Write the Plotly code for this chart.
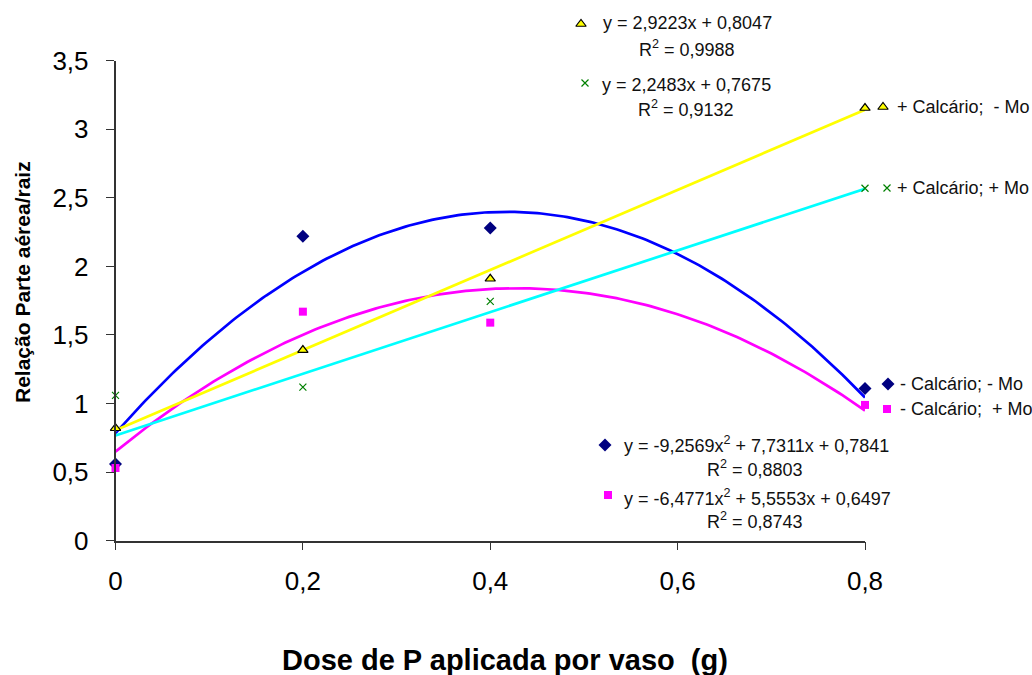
import numpy as np
import plotly.graph_objects as go

# Doses of P applied per pot (g)
doses = [0, 0.2, 0.4, 0.8]

# Shoot/root ratio per treatment
sem_calc_sem_mo = [0.56, 2.22, 2.28, 1.11]   # - Calcário; - Mo
sem_calc_com_mo = [0.53, 1.67, 1.59, 0.99]   # - Calcário; + Mo
com_calc_sem_mo = [0.82, 1.39, 1.91, 3.155]  # + Calcário; - Mo
com_calc_com_mo = [1.06, 1.12, 1.745, 2.57]  # + Calcário; + Mo

# Fitted trendline coefficients (highest power first)
fit_sem_calc_sem_mo = [-9.2569, 7.7311, 0.7841]
fit_sem_calc_com_mo = [-6.4771, 5.5553, 0.6497]
fit_com_calc_sem_mo = [2.9223, 0.8047]
fit_com_calc_com_mo = [2.2483, 0.7675]

x_ticks = [0, 0.2, 0.4, 0.6, 0.8]
x_tick_text = ["0", "0,2", "0,4", "0,6", "0,8"]
y_ticks = [0, 0.5, 1, 1.5, 2, 2.5, 3, 3.5]
y_tick_text = ["0", "0,5", "1", "1,5", "2", "2,5", "3", "3,5"]

W, H = 1032, 675
FONT = "Liberation Sans, Arial, sans-serif"
TXT = "#111111"

# plot area in pixels
PX_L, PX_R, PX_T, PX_B = 115.5, 865.0, 60.7, 540.7

NAVY = "#000080"
BLUE = "#0000FF"
MAGENTA = "#FF00FF"
YELLOW = "#FFFF00"
CYAN = "#00FFFF"
GREEN = "#008000"

series = [
    dict(y=sem_calc_sem_mo, fit=fit_sem_calc_sem_mo, line=BLUE,
         marker=dict(symbol="diamond", size=10, color=NAVY)),
    dict(y=sem_calc_com_mo, fit=fit_sem_calc_com_mo, line=MAGENTA,
         marker=dict(symbol="square", size=8, color=MAGENTA)),
    dict(y=com_calc_sem_mo, fit=fit_com_calc_sem_mo, line=YELLOW,
         marker=dict(symbol="triangle-up", size=9, color=YELLOW,
                     line=dict(color="#000000", width=1.2))),
    dict(y=com_calc_com_mo, fit=fit_com_calc_com_mo, line=CYAN,
         marker=dict(symbol="x-thin", size=7, color=GREEN,
                     line=dict(color=GREEN, width=1.2))),
]

fig = go.Figure()
xs = np.linspace(0, 0.8, 200)

# trendlines first, so the points sit on top
for s in series:
    fig.add_trace(go.Scatter(x=xs, y=np.polyval(s["fit"], xs), mode="lines",
                             line=dict(color=s["line"], width=2.7),
                             hoverinfo="skip", showlegend=False))

for s in series:
    fig.add_trace(go.Scatter(x=doses, y=s["y"], mode="markers",
                             marker=s["marker"], cliponaxis=False,
                             showlegend=False))

# key symbols beside the labels, on a full-page pixel-space axis pair
key_pos = [
    (888, 384, series[0]["marker"]),
    (887, 409, series[1]["marker"]),
    (883, 107, series[2]["marker"]),
    (887, 188, series[3]["marker"]),
    (605, 445, series[0]["marker"]),
    (608, 495, series[1]["marker"]),
    (581, 24, series[2]["marker"]),
    (585, 83, series[3]["marker"]),
]
for kx, ky, mk in key_pos:
    fig.add_trace(go.Scatter(x=[kx], y=[ky], mode="markers", marker=mk,
                             xaxis="x2", yaxis="y2", cliponaxis=False,
                             hoverinfo="skip", showlegend=False))

annotations = []


def label(text, px, py, size=18, anchor="left", **kw):
    annotations.append(dict(text=text, x=px / W, y=1 - py / H, xref="paper", yref="paper",
                            xanchor=anchor, yanchor="middle", showarrow=False,
                            font=dict(family=FONT, size=size, color=TXT), **kw))


# legend texts
label("+ Calcário;  - Mo", 895, 107)
label("+ Calcário; + Mo", 895, 188)
label("- Calcário; - Mo", 898, 384)
label("- Calcário;  + Mo", 898, 409)

# trendline equations
label("y = 2,9223x + 0,8047", 601, 23)
label("R<sup>2</sup> = 0,9988", 687, 48, anchor="center")
label("y = 2,2483x + 0,7675", 600, 85)
label("R<sup>2</sup> = 0,9132", 686, 108, anchor="center")
label("y = -9,2569x<sup>2</sup> + 7,7311x + 0,7841", 622, 445)
label("R<sup>2</sup> = 0,8803", 755, 468, anchor="center")
label("y = -6,4771x<sup>2</sup> + 5,5553x + 0,6497", 622, 497)
label("R<sup>2</sup> = 0,8743", 755, 520, anchor="center")

# axis titles
annotations.append(dict(text="<b>Dose de P aplicada por vaso  (g)</b>", x=505 / W, y=1 - 660 / H,
                        xref="paper", yref="paper", xanchor="center", yanchor="middle",
                        showarrow=False, font=dict(family=FONT, size=29, color="#000000")))
annotations.append(dict(text="<b>Relação Parte aérea/raiz</b>", x=22 / W, y=1 - 282 / H,
                        xref="paper", yref="paper", xanchor="center", yanchor="middle",
                        textangle=-90, showarrow=False,
                        font=dict(family=FONT, size=21, color="#000000")))

axis_common = dict(showgrid=False, zeroline=False, showline=True, linecolor="#333333",
                   linewidth=1.5, ticks="outside", ticklen=8, tickwidth=1.3,
                   tickcolor="#333333", tickfont=dict(family=FONT, size=26, color="#000000"))

fig.update_layout(
    width=W, height=H,
    margin=dict(l=0, r=0, t=0, b=0, autoexpand=False),
    paper_bgcolor="white", plot_bgcolor="rgba(0,0,0,0)",
    showlegend=False,
    xaxis=dict(domain=[PX_L / W, PX_R / W], range=[0, 0.8], tickmode="array",
               tickvals=x_ticks, ticktext=x_tick_text, ticklabelstandoff=8,
               anchor="y", automargin=False, **axis_common),
    yaxis=dict(domain=[1 - PX_B / H, 1 - PX_T / H], range=[0, 3.5], tickmode="array",
               tickvals=y_ticks, ticktext=y_tick_text, ticklabelstandoff=12,
               anchor="x", automargin=False, **axis_common),
    xaxis2=dict(domain=[0, 1], range=[0, W], visible=False, anchor="y2",
                fixedrange=True, automargin=False),
    yaxis2=dict(domain=[0, 1], range=[H, 0], visible=False, anchor="x2",
                fixedrange=True, automargin=False),
    annotations=annotations,
)

fig.write_html("out.html")
